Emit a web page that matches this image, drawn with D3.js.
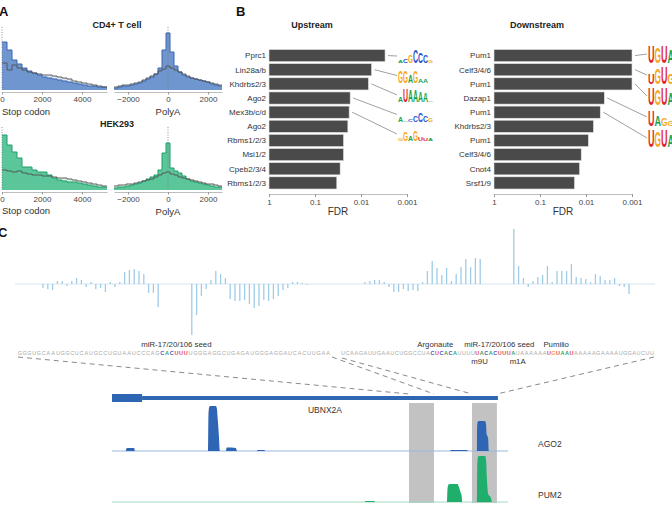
<!DOCTYPE html>
<html>
<head>
<meta charset="utf-8">
<script src="https://cdn.jsdelivr.net/npm/d3@7"></script>
<style>
  body { margin: 0; background: #fff; }
  svg { font-family: "Liberation Sans", Arial, Helvetica, sans-serif; }
</style>
</head>
<body>
<svg id="fig" width="672" height="507"></svg>
<script>
// ---------- panel A: read-end densities (arbitrary units), foreground vs background
const stopBins = d3.range(0, 5250, 250);      // nt downstream of stop codon
const polyABins = d3.range(-2700, 2700, 200); // nt around polyA site
const stopTicks = [0, 2000, 4000];
const polyATicks = [-2000, 0, 2000];

const cd4Stop    = [48,40,30,26,22,19,17,15,13,12,11,10,9,8,7,6,5,4,4,3,3];
const cd4StopBg  = [27,20,25,22,20,18,17,16,15,15,14,13,12,11,9,8,7,6,5,4,3];
const cd4PolyA   = [2,3,4,4,5,6,7,9,11,13,16,22,40,57,38,24,18,15,13,12,11,10,9,8,6,5,4];
const cd4PolyABg = [3,4,5,5,6,7,8,10,12,14,16,19,21,24,22,20,18,16,14,12,11,10,9,8,7,6,5];
const hekStop    = [55,45,38,32,23,23,20,18,18,15,12,10,9,8,8,7,6,5,4,3,3];
const hekStopBg  = [20,19,18,19,17,16,15,15,14,14,13,12,12,11,10,9,8,7,6,5,4];
const hekPolyA   = [2,3,3,4,5,6,7,9,11,13,15,20,37,47,22,19,17,14,11,9,8,7,6,5,4,3,3];
const hekPolyABg = [4,5,5,6,6,7,8,9,10,11,13,15,17,18,16,15,13,12,11,10,9,8,7,6,6,5,4];

// ---------- panel B: motif enrichment
const upNames   = ["Pprc1","Lin28a/b","Khdrbs2/3","Ago2","Mex3b/c/d","Ago2","Rbms1/2/3","Msi1/2","Cpeb2/3/4","Rbms1/2/3"];
const upFdr     = [0.0030,0.0059,0.0069,0.0172,0.0181,0.0193,0.024,0.024,0.0284,0.0336];
const downNames = ["Pum1","Celf3/4/6","Pum1","Dazap1","Pum1","Khdrbs2/3","Pum1","Celf3/4/6","Cnot4","Srsf1/9"];
const downFdr   = [0.001,0.001,0.001,0.0040,0.0049,0.0069,0.0089,0.0127,0.0138,0.0178];
const fdrTicks  = [1, 0.1, 0.01, 0.001];

// sequence logos for the top 5 motifs: [letter, relative height]
const upLogos = [
  [["A",.15],["C",.3],["G",.55],["C",1],["C",.8],["C",.55],["G",.15]],
  [["G",.85],["G",.85],["A",.6],["G",.9],["A",.25],["A",.25]],
  [["A",.4],["U",1],["A",.85],["A",.85],["A",.8],["A",.65],["A",.1]],
  [["A",.35],["A",.12],["C",.15],["C",.5],["C",.65],["C",.5],["G",.3]],
  [["G",.15],["G",.7],["A",.35],["G",.75],["U",.25],["U",.2],["A",.2]]
];
const downLogos = [
  [["U",1],["G",.9],["U",1],["A",.75],["A",.2],["C",.2]],
  [["U",.6],["G",.9],["U",.95],["G",.6],["U",.25],["G",.2]],
  [["U",1],["G",.9],["U",1],["A",.7],["A",.2],["C",.2]],
  [["U",.9],["A",.6],["G",.45],["G",.3],["A",.15],["A",.15]],
  [["U",1],["G",.9],["U",1],["A",.7],["A",.2],["C",.2]]
];

// ---------- panel C: per-nucleotide signal and sequences
const leftSignal = [-4,-5,-6,3,3,-2,3,6,4,-3,2,-5,-4,-8,2,-3,2,12,14,15,13,10,-9,-9,-23,
  0,0,0,0,0,0,
  -51,-31,-12,-5,4,13,10,6,-15,-17,-17,-16,-20,-24,-22,-16,-17,-15,-12,-6,-4,2,2,1,-1];
const rightSignal = [2,3,4,4,2,-3,-8,-8,-5,-7,-6,-7,2,13,23,16,9,16,3,10,17,25,17,26,25,
  0,0,0,0,0,0,
  55,18,6,-3,3,7,9,18,2,13,13,13,20,7,6,5,2,10,8,4,4,6,-2,-3,-10];
const leftSeq  = "GGGUGCAAUGGCUCAUGCCUGUAAUCCCAGCACUUUUGGGAGGCUGAGAUGGGAGGAUCACUUGAA";
const rightSeq = "UCAAGAUUGAAUCUGGCCUACUCACAUUUUUACACUUUAUAAAAAAUGUAAUAAAAAGAAAAUGGAUCUU";
const leftMarked  = [[30, 35]];
const rightMarked = [[20, 25], [30, 38], [46, 51]];
const leftSites  = [["miR-17/20/106 seed", 33]];
const rightSites = [["Argonaute", 20.6], ["miR-17/20/106 seed", 34.9], ["Pumilio", 47.6]];
const rightMods  = [["m9U", 30.5], ["m1A", 39]];

// gene model and CLIP coverage (nt along the locus)
const geneBlocks = [[0, 152], [152, 1949]];
const blockType  = ["cds", "utr"];
const regionStarts = [1500, 1818];
const regionEnds   = [1626, 1944];
const ago2Pos = [0,70,72,76,112,116,485,487,490,495,525,530,535,540,545,576,578,582,626,631,732,735,770,773,1707,1712,1793,1798,1843,1844,1847,1852,1884,1889,1892,1896,1900,1903,2000];
const ago2Val = [0,0,2,3,3,0,0,35,43,45,45,42,30,15,0,0,3,3.5,3,0,0,1,1,0,0,1,1,0,0,24,29,30,30,27,17,15,12,0,0];
const pum2Pos = [0,1276,1280,1325,1329,1692,1694,1698,1705,1745,1752,1760,1766,1769,1843,1845,1848,1853,1885,1890,1893,1900,1914,1919,2000];
const pum2Val = [0,0,1,1,0,0,12,17,18,18,15,10,6,0,0,38,45,46,46,40,25,8,4,0,0];

const ntColor = { A: "#36a65a", C: "#4b55cc", G: "#f0a530", U: "#e2455e" };
const logoColor = { A: "#17a24b", C: "#1f4fd0", G: "#f4a81d", U: "#e0242c" };

const svg = d3.select("#fig");

function styleAxis(ax, size) {
  ax.select(".domain").attr("stroke", "#bdbdbd");
  ax.selectAll(".tick line").attr("stroke", "#999");
  ax.selectAll("text").attr("font-size", size).attr("fill", "#444")
    .attr("font-family", "Liberation Sans, Arial, sans-serif");
}

// ================= A =================
function histPanel(bins, step, fg, bg, xDomain, xRange, base, ticks, col) {
  const x = d3.scaleLinear().domain(xDomain).range(xRange);
  const y = d3.scaleLinear().domain([0, 60]).range([base, base - 60]);
  const g = svg.append("g");
  const pts = vals => vals.map((v, i) => [bins[i], v])
    .concat([[bins[bins.length - 1] + step, vals[vals.length - 1]]]);
  const area = d3.area().curve(d3.curveStepAfter).x(d => x(d[0])).y0(y(0)).y1(d => y(d[1]));
  const line = d3.line().curve(d3.curveStepAfter).x(d => x(d[0])).y(d => y(d[1]));

  g.append("path").attr("d", area(pts(bg))).attr("fill", col.pale);
  g.append("path").attr("d", area(pts(fg))).attr("fill", col.fill);
  g.append("path").attr("d", line(pts(fg))).attr("fill", "none")
    .attr("stroke", col.line).attr("stroke-width", 1);
  g.append("path").attr("d", line(pts(bg))).attr("fill", "none")
    .attr("stroke", "#505050").attr("stroke-width", 0.9);
  g.append("line").attr("x1", x(0)).attr("x2", x(0)).attr("y1", base - 63).attr("y2", base)
    .attr("stroke", "#777").attr("stroke-width", 0.8).attr("stroke-dasharray", "1,1.5");

  const ax = g.append("g").attr("transform", `translate(0,${base + 2})`)
    .call(d3.axisBottom(x).tickValues(ticks).tickSize(2.5).tickSizeOuter(0)
      .tickPadding(2).tickFormat(d3.format("d")));
  styleAxis(ax, 8);
}

const blue = { fill: "#7096cf", line: "#3866b2", pale: "#dde6f3" };
const green = { fill: "#5cc69b", line: "#1f9f6b", pale: "#d9f0e5" };

histPanel(stopBins, 250, cd4Stop, cd4StopBg, [0, 5250], [2, 107], 90, stopTicks, blue);
histPanel(polyABins, 200, cd4PolyA, cd4PolyABg, [-2700, 2700], [114, 222], 90, polyATicks, blue);
histPanel(stopBins, 250, hekStop, hekStopBg, [0, 5250], [2, 107], 190, stopTicks, green);
histPanel(polyABins, 200, hekPolyA, hekPolyABg, [-2700, 2700], [114, 222], 190, polyATicks, green);

const txt = (x, y, s, size, opts = {}) => svg.append("text").attr("x", x).attr("y", y)
  .attr("font-size", size).attr("fill", opts.fill || "#222")
  .attr("font-weight", opts.bold ? "bold" : null)
  .attr("text-anchor", opts.anchor || "start").text(s);

txt(-1, 16, "A", 13, { bold: true, fill: "#111" });
txt(117, 28, "CD4+ T cell", 9, { bold: true, anchor: "middle" });
txt(117, 127, "HEK293", 9, { bold: true, anchor: "middle" });
txt(2, 115, "Stop codon", 9.5, { fill: "#333" });
txt(168, 115, "PolyA", 9.5, { fill: "#333", anchor: "middle" });
txt(2, 214, "Stop codon", 9.5, { fill: "#333" });
txt(168, 215, "PolyA", 9.5, { fill: "#333", anchor: "middle" });

// ================= B =================
function drawLogo(g, letters, x0, baseline, w, h) {
  letters.forEach((l, i) => {
    const sy = (l[1] * h) / 7.3;
    g.append("text")
      .attr("transform", `translate(${x0 + i * w},${baseline}) scale(1,${sy})`)
      .attr("font-size", 10).attr("font-weight", "bold")
      .attr("textLength", w).attr("lengthAdjust", "spacingAndGlyphs")
      .attr("fill", logoColor[l[0]]).text(l[0]);
  });
}

function fdrPanel(names, fdr, x0, title, logos, logoX, logoW, logoH, logoY0, logoDy) {
  const g = svg.append("g");
  const x = d3.scaleLog().domain([1, 0.001]).range([x0, x0 + 138]);
  const y = d3.scaleBand().domain(d3.range(names.length)).range([49.5, 189]).paddingInner(0.14);
  const bw = y.bandwidth();

  g.selectAll("rect.bar").data(fdr).join("rect").attr("class", "bar")
    .attr("x", x(1)).attr("y", (d, i) => y(i))
    .attr("width", d => x(d) - x(1)).attr("height", bw)
    .attr("fill", "#4a4a4a").attr("stroke", "#e2e2e2").attr("stroke-width", 0.6);

  g.selectAll("text.lab").data(names).join("text").attr("class", "lab")
    .attr("x", x0 - 3).attr("y", (d, i) => y(i) + bw / 2).attr("dy", "0.35em")
    .attr("text-anchor", "end").attr("font-size", 8).attr("fill", "#333").text(d => d);

  const ax = g.append("g").attr("transform", "translate(0,194)")
    .call(d3.axisBottom(x).tickValues(fdrTicks).tickSize(3).tickSizeOuter(0)
      .tickPadding(2).tickFormat(d => String(d)));
  styleAxis(ax, 8);

  g.append("text").attr("x", x0 + 69).attr("y", 215).attr("text-anchor", "middle")
    .attr("font-size", 10).attr("fill", "#333").text("FDR");
  g.append("text").attr("x", x0 + 43).attr("y", 28).attr("text-anchor", "middle")
    .attr("font-size", 9).attr("font-weight", "bold").attr("fill", "#222").text(title);

  logos.forEach((letters, i) => {
    const cy = logoY0 + i * logoDy;
    g.append("line")
      .attr("x1", x(fdr[i]) + 3).attr("y1", y(i) + bw / 2)
      .attr("x2", logoX - 1).attr("y2", cy)
      .attr("stroke", "#888").attr("stroke-width", 0.8);
    drawLogo(g, letters, logoX, cy + logoH / 2, logoW, logoH);
  });
}

txt(236, 16, "B", 13, { bold: true, fill: "#111" });
fdrPanel(upNames, upFdr, 269, "Upstream", upLogos, 398, 5, 14, 56, 19.5);
fdrPanel(downNames, downFdr, 494, "Downstream", downLogos, 648, 6.5, 18, 54, 21);

// ================= C =================
txt(-2, 237, "C", 13, { bold: true, fill: "#111" });

const yC = d3.scaleLinear().domain([-60, 60]).range([344, 224]);
const xSigL = d3.scaleLinear().domain([0, leftSignal.length - 1]).range([43, 307]);
const xSigR = d3.scaleLinear().domain([0, rightSignal.length - 1]).range([365, 629]);

svg.append("line").attr("x1", 15).attr("x2", 655).attr("y1", yC(0)).attr("y2", yC(0))
  .attr("stroke", "#d6e7f1").attr("stroke-width", 1);

[[leftSignal, xSigL], [rightSignal, xSigR]].forEach(([vals, xs]) => {
  svg.append("g").selectAll("line").data(vals.map((v, i) => [i, v]).filter(d => d[1] !== 0))
    .join("line")
    .attr("x1", d => xs(d[0])).attr("x2", d => xs(d[0]))
    .attr("y1", yC(0)).attr("y2", d => yC(d[1]))
    .attr("stroke", "#9fcbe7").attr("stroke-width", 1.3);
});

const xSeqL = d3.scaleLinear().domain([0, leftSeq.length - 1]).range([20, 328]);
const xSeqR = d3.scaleLinear().domain([0, rightSeq.length - 1]).range([343, 652]);

function drawSeq(seq, xs, marked) {
  const isMarked = i => marked.some(m => i >= m[0] && i <= m[1]);
  svg.append("g").selectAll("text").data(seq.split("")).join("text")
    .attr("x", (d, i) => xs(i)).attr("y", 354.5).attr("text-anchor", "middle")
    .attr("font-size", 5.5)
    .attr("font-weight", (d, i) => isMarked(i) ? "bold" : null)
    .attr("fill", (d, i) => isMarked(i) ? ntColor[d] : "#a8a8a8")
    .text(d => d);
}
drawSeq(leftSeq, xSeqL, leftMarked);
drawSeq(rightSeq, xSeqR, rightMarked);

leftSites.forEach(s => txt(xSeqL(s[1]), 346.5, s[0], 7.8, { anchor: "middle", fill: "#333" }));
rightSites.forEach(s => txt(xSeqR(s[1]), 346.5, s[0], 7.8, { anchor: "middle", fill: "#333" }));
rightMods.forEach(s => txt(xSeqR(s[1]), 364, s[0], 7.8, { anchor: "middle", fill: "#333" }));

// gene locus
const xG = d3.scaleLinear().domain([0, 2000]).range([112, 508]);
const geneY = 398;

// dashed zoom connectors (sequence ends -> highlighted regions)
const conn = [
  [xSeqL(0) - 2, 357, xG(regionStarts[0]), 394],
  [xSeqL(leftSeq.length - 1) + 4, 357, xG(regionEnds[0]), 394],
  [xSeqR(0) - 1, 358, xG(regionStarts[1]), 394],
  [xSeqR(rightSeq.length - 1) + 2, 357, xG(regionEnds[1]), 394]
];
svg.append("g").selectAll("line").data(conn).join("line")
  .attr("x1", d => d[0]).attr("y1", d => d[1]).attr("x2", d => d[2]).attr("y2", d => d[3])
  .attr("stroke", "#8a8a8a").attr("stroke-width", 1).attr("stroke-dasharray", "5,4");

svg.append("g").selectAll("rect").data(regionStarts).join("rect")
  .attr("x", d => xG(d)).attr("width", (d, i) => xG(regionEnds[i]) - xG(d))
  .attr("y", 403).attr("height", 100).attr("fill", "#c2c2c2");

svg.append("g").selectAll("rect").data(geneBlocks).join("rect")
  .attr("x", d => xG(d[0])).attr("width", d => xG(d[1]) - xG(d[0]))
  .attr("y", (d, i) => blockType[i] === "cds" ? geneY - 4 : geneY - 2)
  .attr("height", (d, i) => blockType[i] === "cds" ? 8 : 4)
  .attr("fill", "#2f66b3");
txt(325, 413, "UBNX2A", 8.5, { anchor: "middle", fill: "#333" });

function coverage(pos, val, base, col, baseCol) {
  const y = d3.scaleLinear().domain([0, 50]).range([base, base - 50]);
  const area = d3.area().curve(d3.curveMonotoneX)
    .x((d, i) => xG(pos[i])).y0(y(0)).y1(d => y(d));
  svg.append("line").attr("x1", xG(0)).attr("x2", xG(2000)).attr("y1", base).attr("y2", base)
    .attr("stroke", baseCol).attr("stroke-width", 1);
  svg.append("path").attr("d", area(val)).attr("fill", col);
}
coverage(ago2Pos, ago2Val, 451, "#2e65b5", "#9ab7df");
coverage(pum2Pos, pum2Val, 502, "#1fae6c", "#9fd9bf");

txt(538, 447, "AGO2", 8.5, { fill: "#333" });
txt(538, 498, "PUM2", 8.5, { fill: "#333" });
</script>
</body>
</html>
